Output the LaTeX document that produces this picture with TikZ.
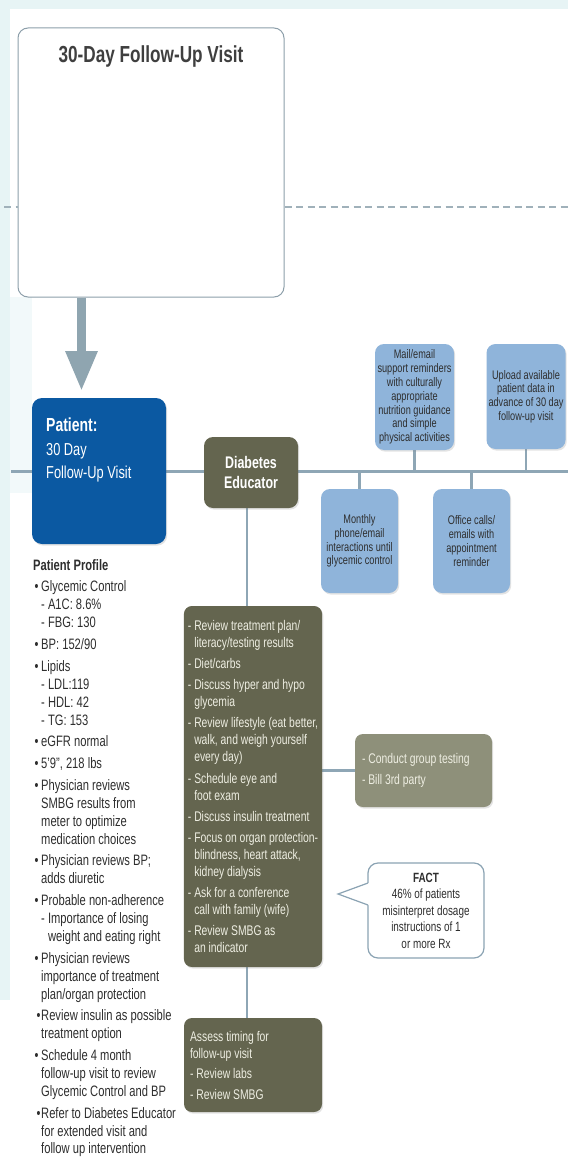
\documentclass[tikz,border=0pt]{standalone}
\usepackage{fontspec}
\setmainfont{Liberation Sans}[FakeStretch=0.74]
\usetikzlibrary{arrows.meta,shadows}

\definecolor{tint}{HTML}{E7F4F5}
\definecolor{tintlight}{HTML}{F2F9FA}
\definecolor{wire}{HTML}{8EA6B5}
\definecolor{dashwire}{HTML}{A0B1BA}
\definecolor{frame}{HTML}{8D9FAA}
\definecolor{factframe}{HTML}{8BA3B3}
\definecolor{titlegray}{HTML}{3F3F3F}
\definecolor{patientblue}{HTML}{0B59A2}
\definecolor{olive}{HTML}{64654F}
\definecolor{olivelight}{HTML}{8E907A}
\definecolor{skyblue}{HTML}{8FB4DA}
\definecolor{cream}{HTML}{EEEEE2}
\definecolor{ink}{HTML}{2E2E2E}
\definecolor{arrowgray}{HTML}{8FA5B0}

\pgfdeclarelayer{bg}
\pgfdeclarelayer{back}
\pgfsetlayers{bg,back,main}

% bullets and indents for the profile list
\newcommand{\blt}{\hspace*{1.5pt}\makebox[6.5pt][l]{•}}
\newcommand{\bltb}{\hspace*{3.5pt}\makebox[4.5pt][l]{•}}
\newcommand{\ind}{\hspace*{8pt}}
\newcommand{\dsh}{\phantom{- }}

\begin{document}
\begin{tikzpicture}[x=1pt,y=-1pt,
  boxshadow/.style={drop shadow={opacity=0.22,shadow xshift=1.2pt,shadow yshift=-1.6pt}},
  infobox/.style={rectangle,rounded corners=9pt,fill=skyblue,boxshadow,text=ink,
    align=center,inner sep=2pt,font=\fontsize{12.4}{13.8}\selectfont},
  olivebox/.style={rectangle,rounded corners=8pt,fill=olive,boxshadow,text=cream,
    align=left,inner sep=4pt,font=\fontsize{14}{17}\selectfont},
  wireline/.style={draw=wire,line width=2.6pt},
  spoke/.style={draw=wire,line width=2.4pt}]

\useasboundingbox (0,0) rectangle (568,1158);

% page tints
\begin{pgfonlayer}{bg}
  \fill[white] (0,0) rectangle (568,1158);
  \fill[tint] (0,0) rectangle (568,9);
  \fill[tint] (0,0) rectangle (10,1000);
  \fill[tintlight] (10,297) rectangle (32,493);
\end{pgfonlayer}

% top visit frame
\node[draw=frame,line width=1pt,rounded corners=10pt,fill=white,
      minimum width=266pt,minimum height=269pt,inner sep=0pt] (visit) at (151,162.5) {};
\node[text=titlegray,font=\bfseries\fontsize{23.2}{26}\selectfont] (title) at (151,57) {30-Day Follow-Up Visit};

\coordinate (dashL) at (4,207);
\coordinate (dashR) at (568,207);
\draw[dashwire,line width=2.8pt,dash pattern=on 7pt off 4.5pt] (dashL) -- (visit.west |- dashL);
\draw[dashwire,line width=2.8pt,dash pattern=on 7pt off 4.5pt] (visit.east |- dashR) -- (dashR);

% arrow down to the patient
\coordinate (tip) at (81.5,391);
\draw[arrowgray,line width=9pt,-{Triangle[width=30pt,length=40pt]}] (visit.south -| tip) -- (tip);

% patient
\node[rectangle,rounded corners=10pt,fill=patientblue,boxshadow,
      minimum width=134pt,minimum height=146pt,inner sep=0pt] (patient) at (99,471) {};
\node[anchor=north west,inner sep=0pt,align=left,text=white,
      font=\fontsize{17.3}{23.5}\selectfont] (patienttext) at (46,418)
  {{\bfseries\fontsize{18.9}{23.5}\selectfont Patient:}\\30 Day\\Follow-Up Visit};

% diabetes educator
\node[rectangle,rounded corners=9pt,fill=olive,boxshadow,text=white,align=center,
      minimum width=94pt,minimum height=71pt,inner sep=0pt,
      font=\bfseries\fontsize{16.8}{19.5}\selectfont] (educator) at (251,472.5) {Diabetes\\Educator};

% support boxes on the timeline
\node[infobox,minimum width=79pt,minimum height=106pt] (mail) at (414.5,397)
  {Mail/email\\support reminders\\with culturally\\appropriate\\nutrition guidance\\and simple\\physical activities};
\node[infobox,minimum width=78pt,minimum height=105pt] (upload) at (526,396.5)
  {Upload available\\patient data in\\advance of 30 day\\follow-up visit};
\node[infobox,minimum width=77pt,minimum height=104pt] (monthly) at (359.5,541)
  {Monthly\\phone/email\\interactions until\\glycemic control};
\node[infobox,minimum width=77pt,minimum height=104pt] (office) at (471.5,541)
  {Office calls/\\emails with\\appointment\\reminder};

% educator tasks
\node[olivebox,minimum width=138pt,minimum height=361pt] (review) at (253,786.5)
  {- Review treatment plan/\\\dsh literacy/testing results\\[4.2pt]
   - Diet/carbs\\[4.2pt]
   - Discuss hyper and hypo\\\dsh glycemia\\[4.2pt]
   - Review lifestyle (eat better,\\\dsh walk, and weigh yourself\\\dsh every day)\\[4.2pt]
   - Schedule eye and\\\dsh foot exam\\[4.2pt]
   - Discuss insulin treatment\\[4.2pt]
   - Focus on organ protection-\\\dsh blindness, heart attack,\\\dsh kidney dialysis\\[4.2pt]
   - Ask for a conference\\\dsh call with family (wife)\\[4.2pt]
   - Review SMBG as\\\dsh an indicator};

\node[olivebox,fill=olivelight,align=flush left,inner sep=7pt,text width=123pt,minimum height=73pt] (conduct) at (423.5,770.5)
  {- Conduct group testing\\[4pt]- Bill 3rd party};

\node[olivebox,align=flush left,inner sep=6pt,text width=126pt,minimum height=94pt] (assess) at (253,1065)
  {Assess timing for\\follow-up visit\\[3.5pt]- Review labs\\[3.5pt]- Review SMBG};

% fact callout
\node[rectangle,rounded corners=10pt,draw=factframe,line width=1.2pt,fill=white,
      minimum width=116pt,minimum height=95pt,align=center,text=ink,inner sep=2pt,
      font=\fontsize{13.4}{16.5}\selectfont] (fact) at (426,910.5)
  {{\bfseries FACT}\\46\% of patients\\misinterpret dosage\\instructions of 1\\or more Rx};
\coordinate (pa) at (368,883);
\coordinate (pb) at (368,905);
\coordinate (ptip) at (338,894);
\fill[white] (pa) -- (ptip) -- (pb) -- ++(1.6,0) -- ++(0,-22) -- cycle;
\draw[factframe,line width=1.2pt,line join=miter] (pa) -- (ptip) -- (pb);

% patient profile
\node[anchor=north west,inner sep=0pt,align=left,text=ink,
      font=\fontsize{15.1}{17.9}\selectfont] (profile) at (33,559)
  {{\bfseries Patient Profile}\\[3.9pt]
   \blt Glycemic Control\\\ind - A1C: 8.6\%\\\ind - FBG: 130\\[3.9pt]
   \blt BP: 152/90\\[3.9pt]
   \blt Lipids\\\ind - LDL:119\\\ind - HDL: 42\\\ind - TG: 153\\[3.9pt]
   \blt eGFR normal\\[3.9pt]
   \blt 5'9", 218 lbs\\[3.9pt]
   \blt Physician reviews\\\ind SMBG results from\\\ind meter to optimize\\\ind medication choices\\[3.9pt]
   \blt Physician reviews BP;\\\ind adds diuretic\\[3.9pt]
   \blt Probable non-adherence\\\ind - Importance of losing\\\ind\dsh weight and eating right\\[3.9pt]
   \blt Physician reviews\\\ind importance of treatment\\\ind plan/organ protection\\[3.9pt]
   \bltb Review insulin as possible\\\ind treatment option\\[3.9pt]
   \blt Schedule 4 month\\\ind follow-up visit to review\\\ind Glycemic Control and BP\\[3.9pt]
   \bltb Refer to Diabetes Educator\\\ind for extended visit and\\\ind follow up intervention};

% connectors behind the boxes
\coordinate (mainL) at (11,471.5);
\coordinate (mainR) at (568,471.5);
\coordinate (spine) at (247,0);
\begin{pgfonlayer}{back}
  \draw[wireline] (mainL) -- (mainR);
  \draw[spoke] (mail) -- (mail |- mainL);
  \draw[spoke] (upload) -- (upload |- mainL);
  \draw[spoke] (monthly) -- (monthly |- mainL);
  \draw[spoke] (office) -- (office |- mainL);
  \draw[spoke] (spine |- educator.south) -- (spine |- assess.north);
  \draw[spoke] (review.east |- conduct.west) -- (conduct.west);
\end{pgfonlayer}

\end{tikzpicture}
\end{document}
